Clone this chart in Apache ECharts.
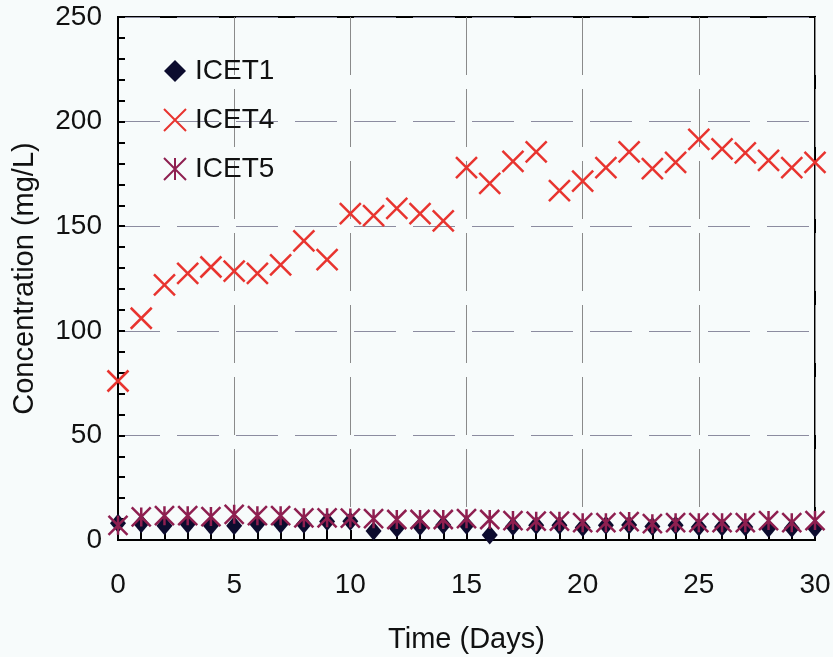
<!DOCTYPE html>
<html>
<head>
<meta charset="utf-8">
<script src="https://cdn.jsdelivr.net/npm/echarts@6/dist/echarts.min.js"></script>
<style>
html,body{margin:0;padding:0;background:#f7fbfb;}
#c{width:833px;height:657px;}
</style>
</head>
<body>
<div id="c"></div>
<script>
var days = [0,1,2,3,4,5,6,7,8,9,10,11,12,13,14,15,16,17,18,19,20,21,22,23,24,25,26,27,28,29,30];
var icet1 = [8,7.8,6.8,7.5,6.8,6.8,7.5,7.5,7.5,8.8,9,4.3,5.6,6.4,7.2,7,2.4,6.4,7,7,6,7,7.2,6.4,7,6.2,6.2,6.2,5.6,5.6,5.6];
var icet4 = [76,106,122,127.5,130.5,128.5,127.5,131.5,143,134,156,155,158.5,156,152.5,178,170.5,181,185.5,167,171.5,178,185.5,177.5,180.5,191.5,187,185,181.5,178,180.5];
var icet5 = [7,11,11.6,11.6,11.2,12.3,11.6,11.6,10.6,10.6,10.5,10.2,9.8,9.8,9.8,10.2,9.8,9.3,9,9,8.3,8.3,8.8,7.8,8.3,8.3,8.3,8.3,9.3,8.3,9.3];
var xTicks = [0,5,10,15,20,25,30];
var yTicks = [0,50,100,150,200,250];

function pairs(v){ return days.map(function(d,i){ return [d, v[i]]; }); }

var chart = echarts.init(document.getElementById('c'), null, {renderer:'canvas'});
var font = 'Liberation Sans, Arial, sans-serif';
chart.setOption({
  backgroundColor:'#f7fbfb',
  animation:false,
  grid: {left:118, right:18, top:17, bottom:117, show:true, borderColor:'#000', borderWidth:2,
    backgroundColor:'transparent', outerBoundsMode:'none', containLabel:false},
  legend: {
    orient:'vertical', left:158, top:52, itemWidth:22, itemHeight:22, itemGap:21,
    textStyle:{fontFamily:font, fontSize:28, color:'#111', lineHeight:26, padding:[0,0,0,4]},
    data:['ICET1','ICET4','ICET5']
  },
  xAxis: {
    type:'value', min:0, max:30, interval:5,
    name:'Time (Days)', nameLocation:'middle', nameGap:85,
    nameTextStyle:{fontFamily:font, fontSize:29, color:'#111'},
    axisLine:{show:true, onZero:false, lineStyle:{color:'#000', width:2}},
    axisTick:{show:true, inside:true, length:10, lineStyle:{color:'#000', width:2}},
    minorTick:{show:true, splitNumber:5, length:10, lineStyle:{color:'#000', width:2}},
    axisLabel:{fontFamily:font, fontSize:28, color:'#111', margin:31,
      formatter:function(v){ return xTicks.indexOf(v)>=0 ? String(v) : ''; }},
    splitLine:{show:true, lineStyle:{color:'#8a8a8a', width:1, type:[58,14]}}
  },
  yAxis: {
    type:'value', min:0, max:250, interval:50,
    name:'Concentration (mg/L)', nameLocation:'middle', nameGap:79,
    nameTextStyle:{fontFamily:font, fontSize:29, color:'#111'},
    axisLine:{show:true, lineStyle:{color:'#000', width:2}},
    axisTick:{show:true, inside:true, length:7, lineStyle:{color:'#000', width:2}},
    minorTick:{show:true, splitNumber:5, length:7, lineStyle:{color:'#000', width:2}},
    axisLabel:{fontFamily:font, fontSize:28, color:'#111', margin:16,
      formatter:function(v){ return yTicks.indexOf(v)>=0 ? String(v) : ''; }},
    splitLine:{show:true, lineStyle:{color:'#8c8ca0', width:1, type:[42,17]}}
  },
  series: [
    {name:'ICET1', type:'scatter', data:pairs(icet1), symbol:'diamond', symbolSize:[16,19], z:2,
      itemStyle:{color:'#0c0c2e', opacity:1}},
    {name:'ICET4', type:'scatter', data:pairs(icet4), symbol:'path://M0,0L20,20M20,0L0,20', symbolSize:21, z:3,
      itemStyle:{color:'rgba(0,0,0,0)', borderColor:'#e8342f', borderWidth:2.5, opacity:1}},
    {name:'ICET5', type:'scatter', data:pairs(icet5), symbol:'path://M0,0L20,20M20,0L0,20M10,0L10,20', symbolSize:19, z:4,
      itemStyle:{color:'rgba(0,0,0,0)', borderColor:'#8e1f50', borderWidth:2.5, opacity:1}}
  ]
});
</script>
</body>
</html>
